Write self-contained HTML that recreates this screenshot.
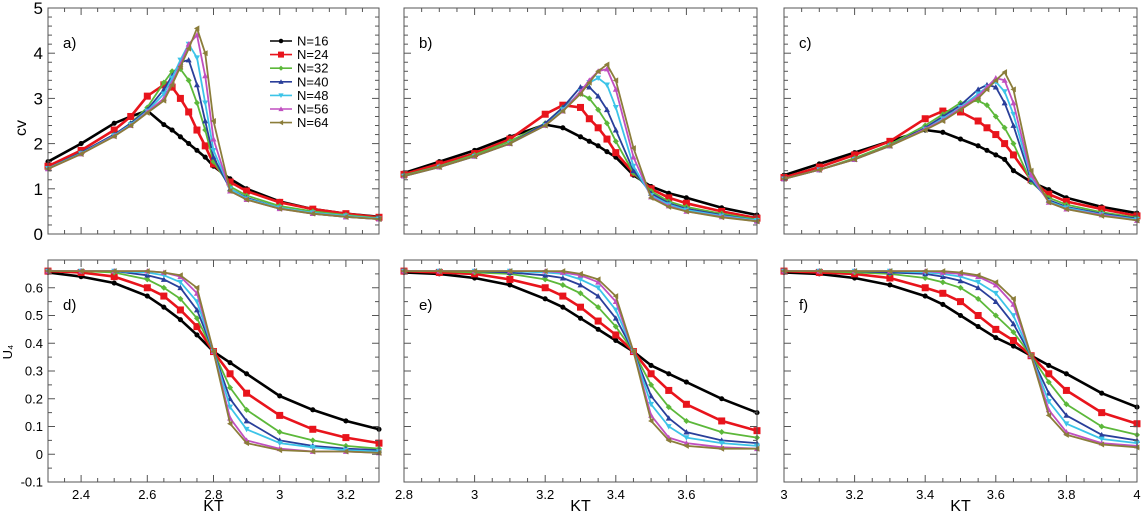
<!DOCTYPE html>
<html><head><meta charset="utf-8"><style>
html,body{margin:0;padding:0;background:#fff;}
svg{display:block;font-family:"Liberation Sans",Arial,sans-serif;}
</style></head><body>
<svg id="chart" width="1142" height="518" viewBox="0 0 1142 518"></svg>
<script>
const seriesNames = ["N=16","N=24","N=32","N=40","N=48","N=56","N=64"];
const seriesColors = ["#000000","#e8141c","#5cb83a","#2a3f9a","#3cc4e8","#c04fc0","#8b7d3a"];
const seriesMarkers = ["circle","square","diamond","tri-up","tri-down","tri-up","tri-left"];

const xA = [2.3,2.4,2.5,2.55,2.6,2.65,2.675,2.7,2.725,2.75,2.775,2.8,2.85,2.9,3.0,3.1,3.2,3.3];
const cvA = [
 [1.6,2.0,2.45,2.6,2.73,2.42,2.3,2.15,2.0,1.85,1.7,1.5,1.22,1.0,0.72,0.55,0.45,0.38],
 [1.5,1.85,2.3,2.6,3.05,3.3,3.25,3.0,2.7,2.3,1.95,1.55,1.15,0.95,0.7,0.55,0.45,0.37],
 [1.45,1.8,2.2,2.45,2.8,3.35,3.6,3.65,3.4,2.9,2.3,1.6,1.05,0.85,0.62,0.5,0.42,0.35],
 [1.45,1.8,2.2,2.45,2.75,3.2,3.5,3.8,3.85,3.3,2.5,1.7,1.0,0.8,0.58,0.45,0.38,0.33],
 [1.45,1.78,2.18,2.42,2.72,3.1,3.45,3.85,4.2,3.9,2.9,1.85,1.0,0.78,0.58,0.47,0.4,0.34],
 [1.44,1.77,2.17,2.4,2.7,3.0,3.35,3.75,4.2,4.4,3.5,2.1,0.95,0.76,0.56,0.45,0.38,0.33],
 [1.44,1.77,2.16,2.4,2.68,2.95,3.3,3.7,4.1,4.55,4.0,2.5,0.95,0.76,0.56,0.45,0.38,0.33]
];
const xB = [2.8,2.9,3.0,3.1,3.2,3.25,3.3,3.325,3.35,3.375,3.4,3.45,3.5,3.55,3.6,3.7,3.8];
const cvB = [
 [1.35,1.6,1.85,2.15,2.42,2.35,2.15,2.05,1.95,1.82,1.7,1.3,1.05,0.9,0.8,0.58,0.42],
 [1.32,1.55,1.78,2.1,2.65,2.85,2.8,2.55,2.35,2.1,1.8,1.35,1.0,0.8,0.68,0.5,0.35],
 [1.3,1.5,1.75,2.05,2.45,2.8,3.1,3.0,2.75,2.45,2.05,1.35,0.95,0.72,0.6,0.45,0.32],
 [1.28,1.48,1.72,2.0,2.45,2.8,3.25,3.25,3.05,2.75,2.3,1.4,0.9,0.68,0.56,0.42,0.3],
 [1.28,1.48,1.72,2.0,2.4,2.75,3.15,3.35,3.45,3.3,2.8,1.5,0.85,0.65,0.53,0.4,0.3],
 [1.28,1.48,1.72,2.0,2.4,2.72,3.15,3.4,3.6,3.65,3.2,1.7,0.82,0.62,0.5,0.38,0.28],
 [1.28,1.48,1.72,2.0,2.4,2.72,3.1,3.35,3.6,3.75,3.4,1.9,0.8,0.6,0.5,0.37,0.28]
];
const xC = [3.0,3.1,3.2,3.3,3.4,3.45,3.5,3.55,3.575,3.6,3.625,3.65,3.7,3.75,3.8,3.9,4.0];
const cvC = [
 [1.3,1.55,1.8,2.05,2.3,2.25,2.1,1.95,1.85,1.75,1.65,1.4,1.15,0.98,0.8,0.6,0.46],
 [1.25,1.48,1.75,2.05,2.55,2.72,2.7,2.5,2.35,2.2,2.0,1.75,1.2,0.88,0.72,0.55,0.4],
 [1.22,1.42,1.68,1.98,2.4,2.65,2.9,2.95,2.85,2.6,2.35,2.0,1.15,0.8,0.65,0.48,0.36],
 [1.22,1.42,1.65,1.95,2.35,2.6,2.85,3.2,3.3,3.25,2.9,2.4,1.2,0.75,0.6,0.45,0.34],
 [1.22,1.42,1.65,1.95,2.32,2.55,2.8,3.1,3.25,3.37,3.15,2.65,1.25,0.72,0.58,0.43,0.32],
 [1.22,1.42,1.65,1.95,2.32,2.52,2.78,3.05,3.25,3.45,3.4,2.9,1.3,0.7,0.55,0.42,0.3],
 [1.22,1.42,1.65,1.95,2.3,2.5,2.75,3.0,3.2,3.4,3.58,3.2,1.4,0.7,0.55,0.4,0.3]
];
const xD = [2.3,2.4,2.5,2.6,2.65,2.7,2.75,2.8,2.85,2.9,3.0,3.1,3.2,3.3];
const u4D = [
 [0.655,0.64,0.617,0.57,0.53,0.485,0.43,0.37,0.33,0.29,0.21,0.16,0.12,0.09],
 [0.66,0.655,0.64,0.6,0.57,0.52,0.46,0.37,0.29,0.22,0.14,0.09,0.06,0.04],
 [0.66,0.66,0.655,0.63,0.6,0.56,0.49,0.37,0.24,0.16,0.08,0.05,0.03,0.02],
 [0.66,0.66,0.66,0.645,0.63,0.6,0.52,0.37,0.2,0.12,0.05,0.03,0.02,0.015],
 [0.66,0.66,0.66,0.655,0.645,0.62,0.55,0.37,0.17,0.09,0.04,0.025,0.015,0.01],
 [0.66,0.66,0.66,0.66,0.655,0.64,0.58,0.37,0.13,0.05,0.02,0.01,0.01,0.005],
 [0.66,0.66,0.66,0.66,0.655,0.645,0.6,0.37,0.11,0.04,0.015,0.01,0.01,0.005]
];
const xE = [2.8,2.9,3.0,3.1,3.2,3.25,3.3,3.35,3.4,3.45,3.5,3.55,3.6,3.7,3.8];
const u4E = [
 [0.655,0.65,0.635,0.61,0.56,0.53,0.49,0.45,0.41,0.37,0.32,0.29,0.26,0.2,0.15],
 [0.66,0.655,0.65,0.63,0.6,0.57,0.53,0.48,0.43,0.37,0.29,0.23,0.18,0.12,0.085],
 [0.66,0.66,0.655,0.65,0.63,0.61,0.58,0.53,0.46,0.37,0.25,0.17,0.12,0.08,0.06],
 [0.66,0.66,0.66,0.655,0.645,0.635,0.61,0.57,0.49,0.37,0.21,0.13,0.08,0.05,0.04],
 [0.66,0.66,0.66,0.66,0.655,0.65,0.63,0.6,0.52,0.37,0.18,0.1,0.06,0.04,0.03],
 [0.66,0.66,0.66,0.66,0.66,0.655,0.645,0.62,0.55,0.37,0.14,0.06,0.04,0.025,0.02],
 [0.66,0.66,0.66,0.66,0.66,0.66,0.65,0.63,0.57,0.37,0.12,0.05,0.03,0.02,0.02]
];
const xF = [3.0,3.1,3.2,3.3,3.4,3.45,3.5,3.55,3.6,3.65,3.7,3.75,3.8,3.9,4.0];
const u4F = [
 [0.655,0.65,0.635,0.61,0.57,0.54,0.5,0.46,0.42,0.39,0.355,0.32,0.29,0.22,0.17],
 [0.66,0.655,0.65,0.635,0.6,0.58,0.55,0.5,0.45,0.41,0.355,0.29,0.23,0.15,0.11],
 [0.66,0.66,0.655,0.65,0.635,0.62,0.6,0.56,0.5,0.44,0.355,0.26,0.18,0.1,0.07],
 [0.66,0.66,0.66,0.655,0.65,0.64,0.625,0.6,0.55,0.47,0.355,0.22,0.14,0.07,0.05],
 [0.66,0.66,0.66,0.66,0.655,0.65,0.64,0.62,0.58,0.5,0.355,0.19,0.11,0.055,0.04],
 [0.66,0.66,0.66,0.66,0.66,0.655,0.65,0.64,0.61,0.54,0.355,0.16,0.08,0.04,0.03],
 [0.66,0.66,0.66,0.66,0.66,0.66,0.655,0.645,0.62,0.56,0.355,0.14,0.07,0.035,0.025]
];
const xTicksA = ["2.4","2.6","2.8","3","3.2"];
const xTicksB = ["2.8","3","3.2","3.4","3.6"];
const xTicksC = ["3","3.2","3.4","3.6","3.8","4"];
const cvTicks = ["0","1","2","3","4","5"];
const u4Ticks = ["-0.1","0","0.1","0.2","0.3","0.4","0.5","0.6"];

const NS="http://www.w3.org/2000/svg";
const svg=document.getElementById('chart');
function mk(tag,attrs,parent){const e=document.createElementNS(NS,tag);for(const k in attrs)e.setAttribute(k,attrs[k]);(parent||svg).appendChild(e);return e;}

const cols=[{x0:48,x1:379,d0:2.3,d1:3.3,ticks:xTicksA},{x0:404,x1:757,d0:2.8,d1:3.8,ticks:xTicksB},{x0:784,x1:1137,d0:3.0,d1:4.0,ticks:xTicksC}];
const rows=[{y0:8,y1:234,d0:0,d1:5,major:1,minor:0.2,ticks:cvTicks},{y0:260,y1:482,d0:-0.1,d1:0.7,major:0.1,minor:0.05,ticks:u4Ticks}];
const panelData=[[[xA,cvA],[xB,cvB],[xC,cvC]],[[xD,u4D],[xE,u4E],[xF,u4F]]];
const letters=[["a)","b)","c)"],["d)","e)","f)"]];

function marker(g,type,x,y,c,s){
  let e;
  if(type==="circle") e=mk('circle',{cx:x,cy:y,r:s*0.85,fill:c},g);
  else if(type==="square") e=mk('rect',{x:x-s,y:y-s,width:2*s,height:2*s,fill:c},g);
  else if(type==="diamond") e=mk('polygon',{points:`${x},${y-s} ${x+s},${y} ${x},${y+s} ${x-s},${y}`,fill:c},g);
  else if(type==="tri-up") e=mk('polygon',{points:`${x},${y-s} ${x+s},${y+s*0.8} ${x-s},${y+s*0.8}`,fill:c},g);
  else if(type==="tri-down") e=mk('polygon',{points:`${x},${y+s} ${x+s},${y-s*0.8} ${x-s},${y-s*0.8}`,fill:c},g);
  else e=mk('polygon',{points:`${x-s},${y} ${x+s*0.8},${y-s} ${x+s*0.8},${y+s}`,fill:c},g);
  
  
}

rows.forEach((R,ri)=>{
  cols.forEach((C,ci)=>{
    const sx=v=>C.x0+(v-C.d0)/(C.d1-C.d0)*(C.x1-C.x0);
    const sy=v=>R.y1-(v-R.d0)/(R.d1-R.d0)*(R.y1-R.y0);
    const pg=mk('g',{});
    
    
    const [xs,ys]=panelData[ri][ci];
    ys.forEach((arr,si)=>{
      const g=mk('g',{},pg);
      
      
      const pts=arr.map((v,i)=>`${sx(xs[i]).toFixed(1)},${sy(v).toFixed(1)}`).join(' ');
      const pl=mk('polyline',{points:pts,fill:'none',stroke:seriesColors[si],'stroke-width':si<2?2.6:1.8,'stroke-linejoin':'round'},g);
      
      
      const ms=si===1?3.5:3;
      arr.forEach((v,i)=>marker(g,seriesMarkers[si],sx(xs[i]),sy(v),seriesColors[si],ms));
    });
    const fr=mk('rect',{x:C.x0,y:R.y0,width:C.x1-C.x0,height:R.y1-R.y0,fill:'none',stroke:'#555','stroke-width':1},pg);
    
    
    const tg=mk('g',{stroke:'#555','stroke-width':1},pg);
    
    
    for(let k=0;k<=Math.round((C.d1-C.d0)/0.05);k++){
      const v=C.d0+k*0.05; const x=sx(v);
      const maj=Math.abs(Math.round(v*5)-v*5)<1e-6; const L=maj?7:4;
      mk('line',{x1:x,y1:R.y1,x2:x,y2:R.y1-L},tg);
      mk('line',{x1:x,y1:R.y0,x2:x,y2:R.y0+L},tg);
    }
    const nm=Math.round((R.d1-R.d0)/R.minor);
    for(let k=0;k<=nm;k++){
      const v=R.d0+k*R.minor; const y=sy(v);
      const r=v/R.major; const maj=Math.abs(Math.round(r)-r)<1e-6; const L=maj?7:4;
      mk('line',{x1:C.x0,y1:y,x2:C.x0+L,y2:y},tg);
      mk('line',{x1:C.x1,y1:y,x2:C.x1-L,y2:y},tg);
    }
    if(ci===0){
      R.ticks.forEach(t=>{
        const tx=mk('text',{x:C.x0-5,y:sy(parseFloat(t))+(ri===0?6:4.5),'text-anchor':'end','font-size':ri===0?17:13,fill:'#000'},pg);
        tx.textContent=t;
        
        
      });
    }
    if(ri===1){
      C.ticks.forEach(t=>{
        const tx=mk('text',{x:sx(parseFloat(t)),y:R.y1+17,'text-anchor':'middle','font-size':13,fill:'#000'},pg);
        tx.textContent=t;
        
        
      });
      const xt=mk('text',{x:(C.x0+C.x1)/2,y:511,'text-anchor':'middle','font-size':16,fill:'#000'},pg);
      xt.textContent='KT';
      
      
    }
    const lt=mk('text',{x:C.x0+15,y:ri===0?48:(R.y0+50),'font-size':15,fill:'#000'},pg);
    lt.textContent=letters[ri][ci];
    
    
  });
});
const yt1=mk('text',{x:0,y:0,'font-size':16,fill:'#000','text-anchor':'middle',transform:'translate(26,128) rotate(-90)'});
yt1.textContent='cv';


const yt2=mk('text',{x:0,y:0,'font-size':13,fill:'#000','text-anchor':'middle',transform:'translate(12,352) rotate(-90)'});
yt2.textContent='U₄';


const lg=mk('g',{});


seriesNames.forEach((n,i)=>{
  const y=41+i*13.6;
  const eg=mk('g',{},lg);
  
  
  mk('line',{x1:270,y1:y,x2:292,y2:y,stroke:seriesColors[i],'stroke-width':1.6},eg);
  marker(eg,seriesMarkers[i],281,y,seriesColors[i],i===1?3:2.6);
  const t=mk('text',{x:297,y:y+4.5,'font-size':13,fill:'#000'},eg);
  t.textContent=n;
  
  
});
</script>
</body></html>
